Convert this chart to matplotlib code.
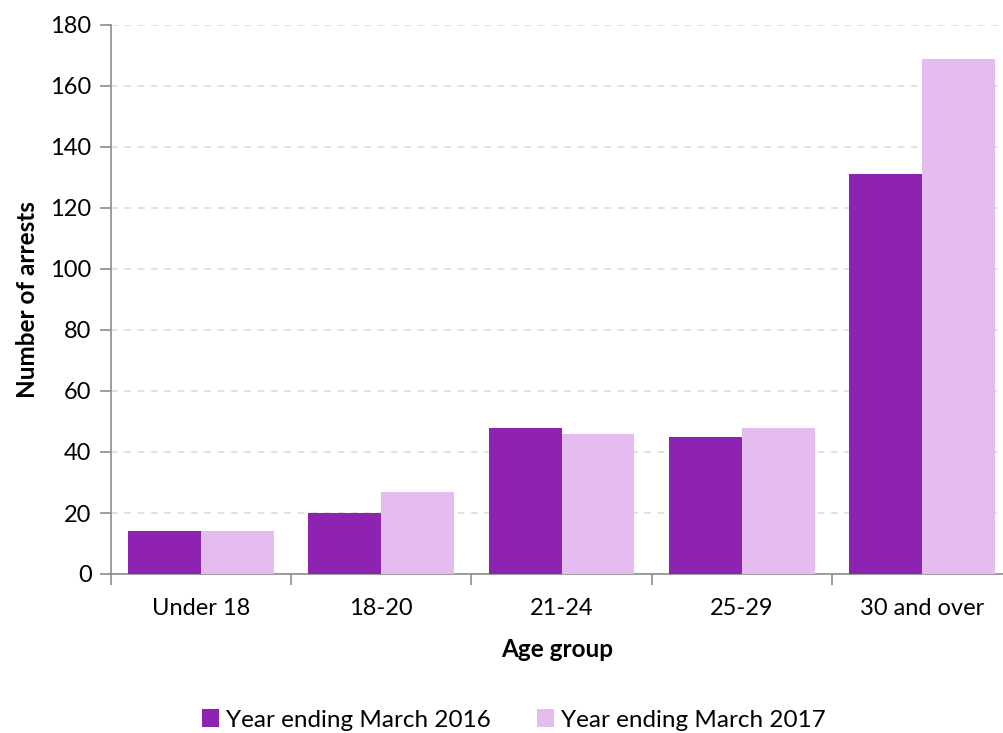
import numpy as np
import matplotlib.pyplot as plt
from matplotlib.ticker import FixedLocator

plt.rcParams['font.family'] = ['Lato', 'DejaVu Sans']

grupos = ["Under 18", "18-20", "21-24", "25-29", "30 and over"]
arrestos_2016 = [14, 20, 48, 45, 131]
arrestos_2017 = [14, 27, 46, 48, 169]
etiquetas = ["Year ending March 2016", "Year ending March 2017"]
yticks = [0, 20, 40, 60, 80, 100, 120, 140, 160, 180]

color_16 = "#8E23B2"
color_17 = "#E4BCF0"
gris = "#8C8C8C"

fig = plt.figure(figsize=(10.04, 7.33), dpi=100)
ax = fig.add_axes([111/1004, 1-574/733, 1-111/1004, (574-25)/733])

x = np.arange(len(grupos))
w = 0.405
ax.bar(x - w/2, arrestos_2016, w, color=color_16, label=etiquetas[0], zorder=3)
ax.bar(x + w/2, arrestos_2017, w, color=color_17, label=etiquetas[1], zorder=3)

ax.set_ylim(0, 180)
ax.set_xlim(-0.5, 4.5 - 8/180)
ax.set_yticks(yticks)
ax.set_xticks(x)
ax.set_xticklabels(grupos, fontsize=17)
ax.tick_params(axis='x', length=0, pad=17)
ax.xaxis.set_minor_locator(FixedLocator(np.arange(-0.5, 5, 1)))
ax.tick_params(axis='x', which='minor', length=8, color=gris, width=1.2)
ax.tick_params(axis='y', length=8, color=gris, width=1.2, labelsize=17, pad=6)

ax.grid(axis='y', color="#DCDCDC", linestyle=(0, (4, 4)), linewidth=1.2, zorder=0)
for s in ['top', 'right']:
    ax.spines[s].set_visible(False)
for s in ['left', 'bottom']:
    ax.spines[s].set_color(gris)
    ax.spines[s].set_linewidth(1.2)

ax.set_ylabel("Number of arrests", fontsize=17.5, fontweight='bold', labelpad=8)
ax.set_xlabel("Age group", fontsize=17.5, fontweight='bold', labelpad=14)

fig.legend(loc='center', bbox_to_anchor=(514/1004, 1-720/733), ncol=2, frameon=False,
           fontsize=17.5, handlelength=0.7, handleheight=0.7, handletextpad=0.3,
           columnspacing=1.9)

fig.savefig("out.png", dpi=100)
